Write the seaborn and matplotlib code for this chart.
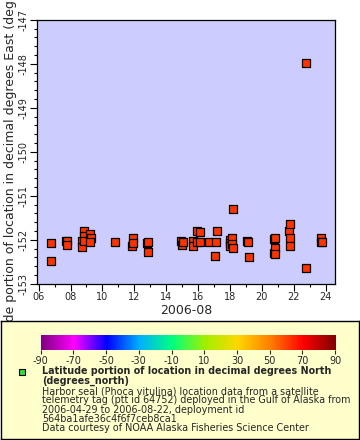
import numpy as np
import pandas as pd
import seaborn as sns
import matplotlib
matplotlib.use('Agg')
from matplotlib import pyplot as plt
import matplotlib.dates as mdates
from matplotlib.colors import LinearSegmentedColormap
from matplotlib.ticker import MultipleLocator

# day of August 2006 (fractional) and longitude of each fix
day = [6.78, 6.78, 7.72, 7.80, 7.80, 8.73, 8.73, 8.82, 8.82, 8.82,
       9.24, 9.30, 9.24, 10.81, 11.84, 11.89, 11.94, 12.79, 12.85, 12.85,
       14.91, 14.97, 15.03, 15.66, 15.66, 15.92, 15.92, 16.10, 16.10, 16.67,
       17.05, 17.10, 17.17, 18.00, 18.00, 18.00, 18.10, 18.10, 18.17, 18.17,
       19.07, 19.12, 19.19, 20.77, 20.82, 20.77, 20.82, 20.82, 21.72, 21.78,
       21.78, 21.78, 22.78, 22.78, 23.73, 23.73, 23.79]
lon = [-152.08, -152.49, -152.02, -152.02, -152.11, -152.02, -152.17, -151.80, -151.92, -152.02,
       -151.86, -151.97, -152.06, -152.04, -152.13, -151.97, -152.07, -152.07, -152.05, -152.27,
       -152.02, -152.11, -152.04, -152.02, -152.15, -151.80, -152.05, -151.83, -152.05, -152.05,
       -152.36, -152.04, -151.80, -152.01, -152.07, -152.15, -151.95, -152.10, -151.31, -152.18,
       -152.02, -152.05, -152.40, -151.98, -151.97, -152.29, -152.18, -152.33, -151.81, -151.65,
       -151.97, -152.13, -152.63, -147.99, -151.95, -152.05, -152.04]

cbar_ticks = list(range(-90, 91, 20))
rainbow = ['#800080', '#ff00ff', '#0000ff', '#00b0ff', '#00ff80',
           '#a0f000', '#ffd700', '#ff8000', '#ff0000', '#800000']

legend_title = 'Latitude portion of location in decimal degrees North\n(degrees_north)'
legend_text = ('Harbor seal (Phoca vitulina) location data from a satellite\n'
               'telemetry tag (ptt id 64752) deployed in the Gulf of Alaska from\n'
               '2006-04-29 to 2006-08-22, deployment id\n'
               '564ba1afe36c4f6f7ceb8ca1\n'
               'Data courtesy of NOAA Alaska Fisheries Science Center')

df = pd.DataFrame({
    'time': pd.Timestamp('2006-08-01') + pd.to_timedelta(np.array(day) - 1, unit='D'),
    'lon': lon,
})

sns.set_style('ticks')
plt.rcParams['font.family'] = ['DejaVu Sans']
plt.rcParams['axes.unicode_minus'] = False

fig = plt.figure(figsize=(3.6, 4.4), dpi=100)
ax = fig.add_axes([0.103, 0.355, 0.828, 0.6])
ax.set_facecolor('#ccccff')
sns.scatterplot(data=df, x='time', y='lon', ax=ax, marker='s', s=32,
                color='#ff3300', edgecolor='black', linewidth=0.9, legend=False)

ax.set_xlim(pd.Timestamp('2006-08-01') + pd.Timedelta(days=4.9),
            pd.Timestamp('2006-08-01') + pd.Timedelta(days=23.6))
ax.set_ylim(-153, -147)
ax.xaxis.set_major_locator(mdates.DayLocator(bymonthday=range(6, 31, 2)))
ax.xaxis.set_minor_locator(mdates.DayLocator())
ax.xaxis.set_major_formatter(mdates.DateFormatter('%d'))
ax.yaxis.set_major_locator(MultipleLocator(1))
ax.yaxis.set_minor_locator(MultipleLocator(0.2))
ax.tick_params(axis='both', which='major', length=5, width=0.8, labelsize=7, pad=1, color='black')
ax.tick_params(axis='both', which='minor', length=2.5, width=0.8, color='black')
ax.tick_params(axis='y', labelrotation=90)
for lbl in ax.get_yticklabels():
    lbl.set_va('center')
for s in ax.spines.values():
    s.set_color('black')
    s.set_linewidth(0.9)
ax.set_xlabel('2006-08', fontsize=9, labelpad=1)
ax.set_ylabel('Longitude portion of location in decimal degrees East (degrees_east)',
              fontsize=9, labelpad=1)

# legend panel
lax = fig.add_axes([0.003, 0.002, 0.994, 0.268])
lax.set_facecolor('#ffffcc')
lax.set_xticks([])
lax.set_yticks([])
for s in lax.spines.values():
    s.set_color('black')
    s.set_linewidth(1)
lax.set_xlim(0, 360)
lax.set_ylim(118, 0)
lax.plot([21], [51], marker='s', ms=5, mfc='#33dd33', mec='black', mew=0.8)
lax.text(41, 45, legend_title, fontsize=6.9, fontweight='bold', va='top', linespacing=0.9)
lax.text(41, 65, legend_text, fontsize=6.9, va='top', linespacing=0.9)

# colorbar
cmap = LinearSegmentedColormap.from_list('rainbow_erddap', rainbow)
cax = fig.add_axes([0.113, 0.2045, 0.818, 0.034])
grad = np.linspace(-90, 90, 256).reshape(1, -1)
cax.imshow(grad, aspect='auto', cmap=cmap, extent=[-90, 90, 0, 1])
cax.set_yticks([])
cax.set_xticks(cbar_ticks)
cax.tick_params(axis='x', length=3, labelsize=7, pad=1)
for s in cax.spines.values():
    s.set_visible(False)

fig.savefig('out.png', dpi=100)
